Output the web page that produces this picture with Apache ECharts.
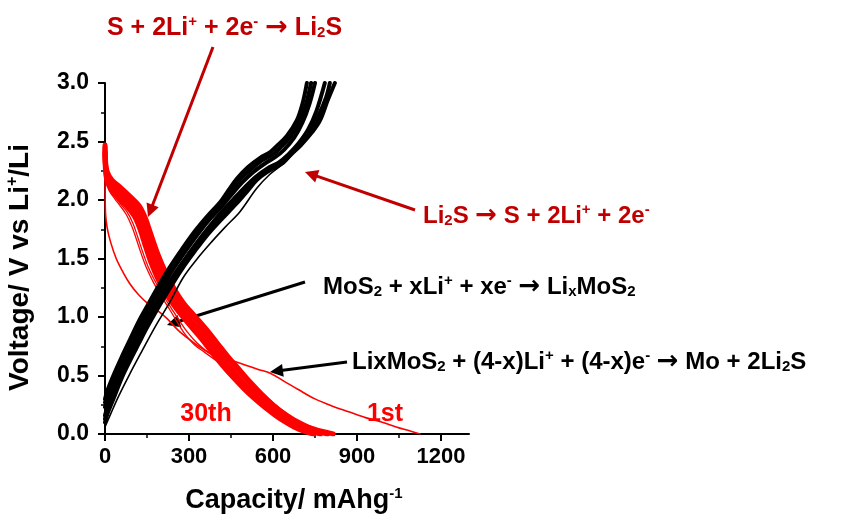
<!DOCTYPE html>
<html><head><meta charset="utf-8">
<script src="https://cdn.jsdelivr.net/npm/echarts@6/dist/echarts.min.js"></script>
<style>html,body{margin:0;padding:0;background:#fff}#c{width:858px;height:519px}</style>
</head><body><div id="c"></div>
<script>
// ---- axis ticks ----
const xMajorTicks = [0, 300, 600, 900, 1200];
const xMinorTicks = [150, 450, 750, 1050];
const xMax = 1300;
const yMin = 0, yMax = 3, yStep = 0.5;

// ---- discharge curves (red): [capacity mAh/g, voltage V] ----
const dischBandA = [[0,2.47],[2,2.33],[8,2.24],[25,2.17],[54,2.11],[90,2.03],[115,1.97],[130,1.92],[145,1.84],[165,1.70],[190,1.53],[215,1.39],[245,1.25],[280,1.12],[320,1.01],[360,0.90],[400,0.78],[440,0.66],[480,0.55],[520,0.44],[560,0.34],[600,0.25],[650,0.15],[700,0.08],[750,0.04],[790,0.015],[815,0]];
const dischBandC1 = [[0,2.45],[2,2.30],[8,2.21],[25,2.14],[54,2.07],[88,1.99],[112,1.93],[128,1.86],[146,1.73],[168,1.57],[194,1.43],[225,1.30],[260,1.17],[298,1.05],[340,0.94],[380,0.82],[420,0.70],[460,0.59],[500,0.48],[540,0.38],[580,0.29],[625,0.20],[675,0.12],[725,0.06],[765,0.02],[795,0]];
const dischBandC2 = [[0,2.42],[2,2.28],[8,2.18],[25,2.11],[54,2.03],[84,1.96],[108,1.89],[126,1.80],[145,1.66],[166,1.51],[191,1.37],[222,1.24],[257,1.12],[295,1.00],[337,0.89],[377,0.77],[417,0.65],[457,0.54],[497,0.43],[537,0.34],[577,0.25],[623,0.16],[673,0.09],[718,0.04],[770,0]];
const dischBand30 = [[0,2.40],[2,2.25],[8,2.16],[25,2.08],[54,2.00],[80,1.94],[105,1.86],[125,1.75],[145,1.60],[165,1.46],[190,1.32],[220,1.19],[255,1.07],[292,0.96],[335,0.84],[375,0.72],[415,0.60],[455,0.49],[495,0.39],[535,0.30],[575,0.22],[625,0.13],[675,0.06],[715,0.02],[745,0]];
const disch2 = [[0,2.22],[3,2.16],[15,2.08],[35,2.01],[54,1.95],[75,1.88],[95,1.78],[110,1.68],[128,1.55],[148,1.42],[172,1.30],[200,1.18],[232,1.06],[262,0.94],[290,0.84],[320,0.76],[355,0.70],[390,0.64],[425,0.58],[460,0.51],[500,0.41],[540,0.32],[580,0.24],[625,0.16],[675,0.09],[725,0.04],[775,0.01],[800,0]];
const disch3 = [[0,2.24],[3,2.18],[15,2.10],[35,2.03],[54,1.97],[78,1.90],[100,1.80],[116,1.69],[134,1.56],[154,1.43],[178,1.31],[206,1.19],[238,1.07],[268,0.96],[298,0.86],[328,0.78],[362,0.71],[397,0.65],[430,0.59],[465,0.52],[505,0.42],[545,0.33],[585,0.25],[630,0.17],[680,0.10],[730,0.05],[780,0.015],[810,0]];
const disch1st = [[0,2.32],[0.5,2.05],[2,1.88],[8,1.76],[20,1.64],[40,1.50],[65,1.38],[90,1.28],[120,1.19],[155,1.11],[190,1.05],[220,0.99],[260,0.89],[300,0.81],[340,0.74],[375,0.69],[410,0.65],[450,0.63],[500,0.59],[550,0.55],[590,0.52],[640,0.45],[690,0.38],[750,0.30],[810,0.24],[870,0.19],[930,0.14],[990,0.10],[1040,0.06],[1090,0.025],[1125,0]];

// ---- charge curves (black) ----
const chargeBandK1 = [[0,0.30],[10,0.38],[30,0.50],[60,0.66],[90,0.81],[120,0.96],[150,1.09],[190,1.26],[230,1.42],[275,1.58],[320,1.73],[365,1.86],[411,1.98],[440,2.08],[470,2.18],[510,2.28],[554,2.36],[590,2.41],[613,2.46],[650,2.55],[685,2.68],[705,2.82],[721,3.0]];
const chargeBandK1b = [[0,0.27],[10,0.35],[30,0.47],[60,0.63],[90,0.78],[120,0.93],[150,1.06],[190,1.23],[230,1.39],[275,1.55],[320,1.70],[365,1.84],[411,1.96],[445,2.06],[480,2.17],[520,2.26],[562,2.34],[600,2.39],[627,2.45],[662,2.54],[695,2.67],[718,2.82],[736,3.0]];
const chargeBandK2 = [[0,0.23],[10,0.31],[30,0.43],[60,0.60],[90,0.75],[120,0.89],[150,1.03],[190,1.20],[230,1.36],[275,1.52],[320,1.67],[365,1.81],[411,1.93],[450,2.04],[490,2.15],[530,2.24],[570,2.31],[610,2.37],[640,2.43],[675,2.53],[705,2.66],[730,2.82],[750,3.0]];
const chargeBandK3 = [[0,0.16],[10,0.24],[30,0.36],[60,0.54],[90,0.69],[120,0.83],[150,0.97],[190,1.14],[230,1.30],[275,1.46],[320,1.61],[365,1.75],[410,1.88],[460,2.01],[500,2.11],[540,2.20],[580,2.27],[620,2.32],[655,2.39],[690,2.48],[725,2.60],[755,2.76],[785,3.0]];
const chargeBandK3b = [[0,0.13],[10,0.21],[30,0.33],[60,0.51],[90,0.66],[120,0.80],[150,0.94],[190,1.11],[230,1.27],[275,1.44],[320,1.59],[365,1.73],[410,1.85],[465,1.99],[505,2.10],[541,2.19],[580,2.26],[628,2.32],[658,2.39],[695,2.48],[733,2.59],[762,2.72],[790,2.88],[803,3.0]];
const chargeBandK4 = [[0,0.10],[10,0.18],[30,0.30],[60,0.48],[90,0.63],[120,0.77],[150,0.91],[190,1.08],[230,1.24],[275,1.41],[320,1.56],[365,1.70],[410,1.82],[470,1.97],[510,2.08],[542,2.17],[580,2.24],[637,2.32],[661,2.38],[700,2.47],[740,2.58],[768,2.68],[795,2.85],[821,3.0]];
const charge1st = [[0,0.06],[20,0.17],[50,0.33],[90,0.52],[130,0.70],[180,0.92],[230,1.12],[280,1.34],[330,1.50],[380,1.64],[430,1.77],[482,1.90],[542,2.10],[589,2.22],[637,2.31],[661,2.37],[700,2.47],[740,2.59],[770,2.72],[800,2.88],[818,3.0]];

const RED = '#ff0000', DARKRED = '#c00000', FONT = 'Liberation Sans, Arial, sans-serif';

function line(name, data, color, width) {
  return { name, type: 'line', data, showSymbol: false, smooth: 0.35,
    lineStyle: { color, width, join: 'round', cap: 'round' }, itemStyle: { color }, silent: true, animation: false };
}

const series = [
  line('disch1st', disch1st, RED, 1.6),
  line('disch2', disch2, RED, 1.3),
  line('disch3', disch3, RED, 1.3),
  line('bandA', dischBandA, RED, 5),
  line('bandC1', dischBandC1, RED, 5),
  line('bandC2', dischBandC2, RED, 5),
  line('band30', dischBand30, RED, 5),
  line('chargeK1', chargeBandK1, '#000', 4),
  line('chargeK1b', chargeBandK1b, '#000', 4),
  line('chargeK2', chargeBandK2, '#000', 4),
  line('chargeK3', chargeBandK3, '#000', 4),
  line('chargeK3b', chargeBandK3b, '#000', 4),
  line('chargeK4', chargeBandK4, '#000', 4),
  line('charge1st', charge1st, '#000', 1.6)
];

function richText(text, x, y, color, size) {
  const base = { fontSize: size, fontWeight: 'bold', fontFamily: FONT, fill: color };
  return { type: 'text', x, y, style: { text, fill: color, font: `bold ${size}px ${FONT}`,
    verticalAlign: 'middle', align: 'left',
    rich: {
      b: base,
      ar: { fontSize: size + 2, fontWeight: 'bold', fontFamily: 'DejaVu Sans', fill: color },
      sub: { fontSize: 15, fontWeight: 'bold', fontFamily: FONT, fill: color, padding: [10, 0, 0, 0] },
      sup: { fontSize: 15, fontWeight: 'bold', fontFamily: FONT, fill: color, padding: [0, 0, 12, 0] }
    } } };
}
function arrow(x1, y1, x2, y2, color) {
  const L = 13, W = 6.5;
  const dx = x2 - x1, dy = y2 - y1, d = Math.hypot(dx, dy), ux = dx / d, uy = dy / d;
  const bx = x2 - ux * L, by = y2 - uy * L;
  return [
    { type: 'line', shape: { x1, y1, x2: bx + ux * 2, y2: by + uy * 2 }, style: { stroke: color, lineWidth: 3 } },
    { type: 'polygon', shape: { points: [[x2, y2], [bx - uy * W, by + ux * W], [bx + uy * W, by - ux * W]] }, style: { fill: color } }
  ];
}

const graphic = [
  richText('{b|S + 2Li}{sup|+}{b| + 2e}{sup|-}{b| }{ar|→}{b| Li}{sub|2}{b|S}', 107, 28, DARKRED, 25),
  richText('{b|Li}{sub|2}{b|S }{ar|→}{b| S + 2Li}{sup|+}{b| + 2e}{sup|-}', 423, 216, DARKRED, 24),
  richText('{b|MoS}{sub|2}{b| + xLi}{sup|+}{b| + xe}{sup|-}{b| }{ar|→}{b| Li}{sub|x}{b|MoS}{sub|2}', 323, 287, '#000', 24),
  richText('{b|LixMoS}{sub|2}{b| + (4-x)Li}{sup|+}{b| + (4-x)e}{sup|-}{b| }{ar|→}{b| Mo + 2Li}{sub|2}{b|S}', 352, 362, '#000', 24),
  { type: 'text', x: 206, y: 414, style: { text: '30th', fill: RED, font: `bold 25px ${FONT}`, align: 'center', verticalAlign: 'middle' } },
  { type: 'text', x: 385, y: 414, style: { text: '1st', fill: RED, font: `bold 25px ${FONT}`, align: 'center', verticalAlign: 'middle' } },
  ...arrow(213, 47, 148, 217, DARKRED),
  ...arrow(415, 210, 305, 172, DARKRED),
  ...arrow(305, 282, 167, 325, '#000'),
  ...arrow(347, 362, 270, 372, '#000')
];

const axisTextBold = { color: '#000', fontSize: 22, fontWeight: 'bold', fontFamily: FONT };

const option = {
  animation: false,
  backgroundColor: '#fff',
  grid: { left: 105, top: 83, width: 364, height: 365, containLabel: false },
  xAxis: [
    { type: 'value', min: 0, max: xMax, position: 'bottom',
      name: 'Capacity/ mAhg{sup|-1}', nameLocation: 'middle', nameGap: 52,
      nameTextStyle: { color: '#000', fontSize: 27, fontWeight: 'bold', fontFamily: FONT, padding: [0, 0, 0, 14],
        rich: { sup: { fontSize: 15, fontWeight: 'bold', fontFamily: FONT, color: '#000', padding: [0, 0, 14, 0] } } },
      axisLine: { show: true, onZero: false, lineStyle: { color: '#000', width: 2 } },
      axisTick: { show: true, inside: false, length: 7, customValues: xMajorTicks, lineStyle: { color: '#000', width: 2 } },
      axisLabel: Object.assign({ margin: 12, customValues: xMajorTicks, formatter: v => String(v) }, axisTextBold),
      splitLine: { show: false } },
    { type: 'value', min: 0, max: xMax, position: 'bottom', gridIndex: 0,
      axisLine: { show: false }, axisLabel: { show: false }, splitLine: { show: false },
      axisTick: { show: true, inside: false, length: 4, customValues: xMinorTicks, lineStyle: { color: '#000', width: 1.5 } } }
  ],
  yAxis: {
    type: 'value', min: yMin, max: yMax, interval: yStep,
    name: 'Voltage/ V vs Li{sup|+}/Li', nameLocation: 'middle', nameGap: 70,
    nameTextStyle: { color: '#000', fontSize: 28, fontWeight: 'bold', fontFamily: FONT, padding: [0, 18, 0, 0],
      rich: { sup: { fontSize: 16, fontWeight: 'bold', fontFamily: FONT, color: '#000', padding: [0, 0, 14, 0] } } },
    axisLine: { show: true, onZero: false, lineStyle: { color: '#000', width: 2 } },
    axisTick: { show: true, inside: false, length: 7, lineStyle: { color: '#000', width: 2 } },
    minorTick: { show: true, splitNumber: 2, length: 4, lineStyle: { color: '#000', width: 1.5 } },
    axisLabel: Object.assign({ margin: 16, formatter: v => v.toFixed(1) }, axisTextBold, { fontSize: 23 }),
    splitLine: { show: false }
  },
  series,
  graphic
};

const chart = echarts.init(document.getElementById('c'), null, { renderer: 'canvas' });
chart.setOption(option);
</script>
</body></html>
